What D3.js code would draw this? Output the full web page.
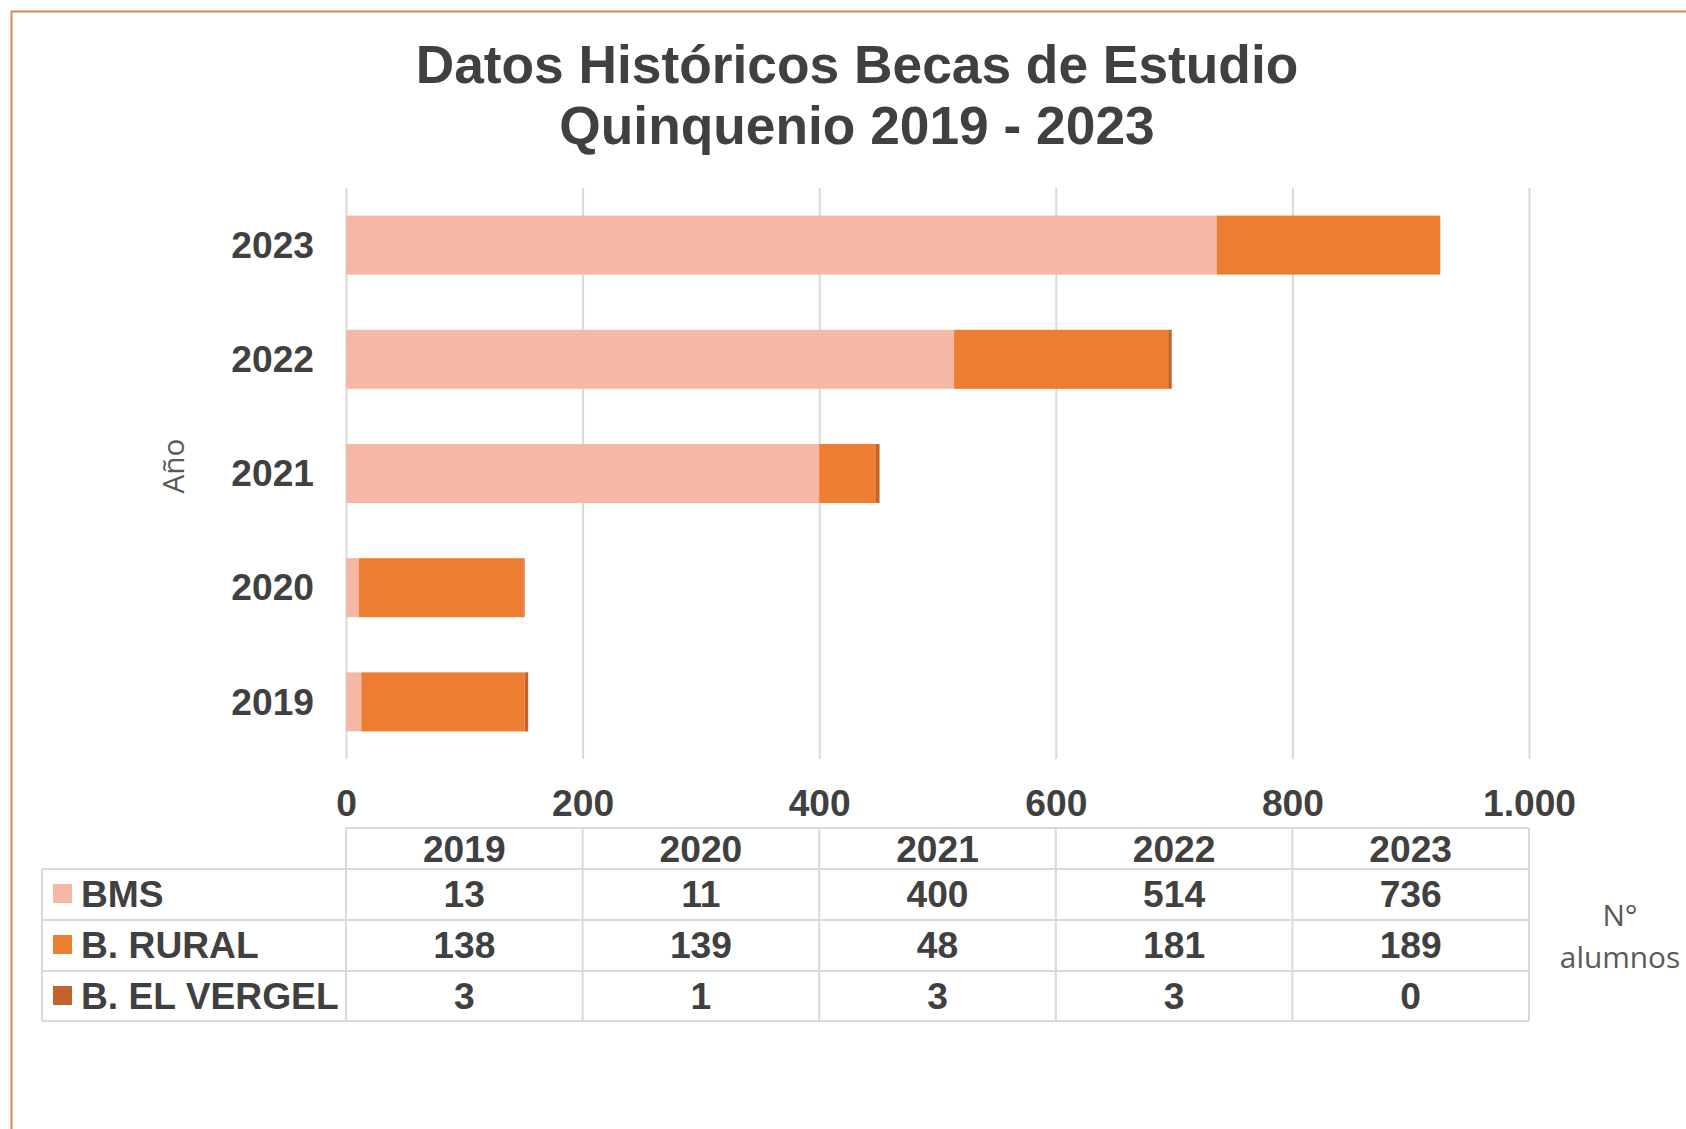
<!DOCTYPE html>
<meta charset="utf-8">
<style>
    body { margin: 0; background: #fff; }
    .lbl { font-family: 'Liberation Sans', Arial, sans-serif; font-weight: bold; fill: #404040; }
    .soft { font-family: 'Open Sans', sans-serif; font-size: 29.8px; fill: #595959; }
    .grid line { stroke: #d9d9d9; stroke-width: 2; }
    .grid path { display: none; }
</style>
<body>
<svg id="chart"></svg>
<script src="https://cdn.jsdelivr.net/npm/d3@7"></script>
<script>

    // datos
    var years = ["2019", "2020", "2021", "2022", "2023"];
    var seriesNames = ["BMS", "B. RURAL", "B. EL VERGEL"];
    var bms = [13, 11, 400, 514, 736];
    var rural = [138, 139, 48, 181, 189];
    var vergel = [3, 1, 3, 3, 0];
    var xTicks = [0, 200, 400, 600, 800, 1000];
    var colors = ["#f4b8a4", "#ed7d31", "#c4622b"];

    var width = 1686, height = 1129;
    var plot = { left: 346, right: 1529, top: 188, bottom: 759 };
    var fs = "37.2px";

    var svg = d3.select("#chart")
        .attr("width", width)
        .attr("height", height);

    // marco
    svg.append("rect")
        .attr("x", 11.5).attr("y", 11.5)
        .attr("width", width).attr("height", height + 50)
        .attr("fill", "none")
        .attr("stroke", "#cd8f5e")
        .attr("stroke-width", 2);

    // titulo
    var title = svg.append("text").attr("class", "lbl")
        .attr("text-anchor", "middle")
        .style("font-size", "53.3px");
    title.append("tspan").attr("x", 857).attr("y", 83).text("Datos Históricos Becas de Estudio");
    title.append("tspan").attr("x", 857).attr("y", 144).text("Quinquenio 2019 - 2023");

    var table = years.map(function (y, i) {
        return { year: y, "BMS": bms[i], "B. RURAL": rural[i], "B. EL VERGEL": vergel[i] };
    });

    var x = d3.scaleLinear()
        .domain([0, 1000])
        .range([plot.left, plot.right]);

    var y = d3.scaleBand()
        .domain(years.slice().reverse())
        .range([plot.top, plot.bottom])
        .paddingInner(0.483)
        .paddingOuter(0.2415);

    var fmt = d3.formatLocale({ decimal: ",", thousands: ".", grouping: [3], currency: ["$", ""] }).format(",");

    // grilla + eje x
    var gx = svg.append("g")
        .attr("class", "grid")
        .attr("transform", "translate(0," + plot.bottom + ")")
        .call(d3.axisTop(x).tickValues(xTicks).tickSize(plot.bottom - plot.top).tickFormat(fmt));
    gx.selectAll("text")
        .attr("class", "lbl")
        .attr("y", 57).attr("dy", 0)
        .style("font-size", fs);

    // barras apiladas
    var stack = d3.stack().keys(seriesNames)(table);
    svg.append("g").selectAll("g")
        .data(stack)
        .enter().append("g")
        .attr("fill", function (d, i) { return colors[i]; })
        .selectAll("rect")
        .data(function (d) { return d; })
        .enter().append("rect")
        .attr("x", function (d) { return x(d[0]); })
        .attr("y", function (d) { return y(d.data.year); })
        .attr("width", function (d) { return x(d[1]) - x(d[0]); })
        .attr("height", y.bandwidth());

    // eje y
    var gy = svg.append("g")
        .attr("transform", "translate(" + plot.left + ",0)")
        .call(d3.axisLeft(y).tickSize(0).tickPadding(32));
    gy.select(".domain").remove();
    gy.selectAll("text")
        .attr("class", "lbl")
        .attr("dy", "0.34em")
        .style("font-size", fs);

    svg.append("text").attr("class", "soft")
        .attr("text-anchor", "middle")
        .attr("transform", "translate(184,466) rotate(-90)")
        .text("Año");

    // tabla de datos
    var tTop = 828, rowTop = 869, rowH = 51, tLeft = 42;
    var tBottom = rowTop + rowH * seriesNames.length - 1;
    var tbl = svg.append("g");
    var line = function (x1, y1, x2, y2) {
        tbl.append("line")
            .attr("x1", x1).attr("y1", y1).attr("x2", x2).attr("y2", y2)
            .attr("stroke", "#d9d9d9").attr("stroke-width", 2);
    };
    line(plot.left, tTop, plot.right, tTop);
    seriesNames.forEach(function (s, i) { line(tLeft, rowTop + i * rowH, plot.right, rowTop + i * rowH); });
    line(tLeft, tBottom, plot.right, tBottom);
    line(tLeft, rowTop, tLeft, tBottom);
    xTicks.forEach(function (t) { line(x(t), tTop, x(t), tBottom); });

    var colCenter = function (i) { return (x(xTicks[i]) + x(xTicks[i + 1])) / 2; };

    years.forEach(function (yr, i) {
        tbl.append("text").attr("class", "lbl")
            .attr("text-anchor", "middle")
            .attr("x", colCenter(i)).attr("y", 862)
            .style("font-size", fs)
            .text(yr);
    });

    var rows = [bms, rural, vergel];
    rows.forEach(function (vals, r) {
        var top = rowTop + r * rowH;
        tbl.append("rect")
            .attr("x", 53).attr("y", top + 15)
            .attr("width", 19).attr("height", 19)
            .attr("fill", colors[r]);
        tbl.append("text").attr("class", "lbl")
            .attr("x", 81).attr("y", top + 38)
            .style("font-size", fs)
            .text(seriesNames[r]);
        vals.forEach(function (v, i) {
            tbl.append("text").attr("class", "lbl")
                .attr("text-anchor", "middle")
                .attr("x", colCenter(i)).attr("y", top + 38)
                .style("font-size", fs)
                .text(v);
        });
    });

    // titulo eje valores
    var ax = svg.append("text").attr("class", "soft").attr("text-anchor", "middle");
    ax.append("tspan").attr("x", 1620).attr("y", 926).text("N°");
    ax.append("tspan").attr("x", 1620).attr("y", 968).text("alumnos");

</script>
</body>
